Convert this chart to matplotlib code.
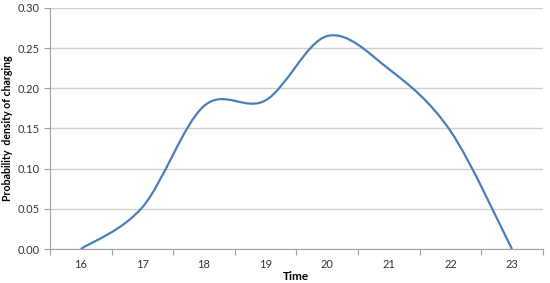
import numpy as np
import matplotlib
matplotlib.use('Agg')
import matplotlib.pyplot as plt
from matplotlib.path import Path
from matplotlib.patches import PathPatch

# Data
hours = [16, 17, 18, 19, 20, 21, 22, 23]
density = [0.0, 0.052, 0.178, 0.185, 0.265, 0.224, 0.147, 0.0]

plt.rcParams['font.family'] = ['Lato', 'DejaVu Sans']

fig = plt.figure(figsize=(5.5, 2.83), dpi=100)
ax = fig.add_axes([0.0909, 0.12, 0.896, 0.852])

# Excel-style smoothed line (Catmull-Rom as cubic Bezier segments)
x = np.array(hours, dtype=float)
y = np.array(density, dtype=float)
verts = [(x[0], y[0])]
codes = [Path.MOVETO]
n = len(x)
for i in range(n - 1):
    p0 = (x[max(i - 1, 0)], y[max(i - 1, 0)])
    p1 = (x[i], y[i])
    p2 = (x[i + 1], y[i + 1])
    p3 = (x[min(i + 2, n - 1)], y[min(i + 2, n - 1)])
    c1 = (p1[0] + (p2[0] - p0[0]) / 6, p1[1] + (p2[1] - p0[1]) / 6)
    c2 = (p2[0] - (p3[0] - p1[0]) / 6, p2[1] - (p3[1] - p1[1]) / 6)
    verts += [c1, c2, p2]
    codes += [Path.CURVE4] * 3
ax.add_patch(PathPatch(Path(verts, codes), fill=False, edgecolor='#4a7ebb',
                       lw=1.6, zorder=3))

ax.set_xlim(15.5, 23.5)
ax.set_ylim(0, 0.30)
ax.set_yticks(np.arange(0, 0.31, 0.05))
ax.set_yticklabels(['%.2f' % v for v in np.arange(0, 0.31, 0.05)])
ax.yaxis.grid(True, color='#d0d0d0', lw=1)
ax.set_axisbelow(True)

# category axis: ticks between categories, labels at centres
ax.set_xticks(np.arange(15.5, 23.6, 1))
ax.set_xticklabels([])
ax.set_xticks(hours, minor=True)
ax.set_xticklabels([str(h) for h in hours], minor=True)
ax.tick_params(axis='x', which='major', length=4, color='#a0a0a0')
ax.tick_params(axis='x', which='minor', length=0, pad=7, labelsize=8, labelcolor='#333333')
ax.tick_params(axis='y', length=4, color='#a0a0a0', labelsize=8, labelcolor='#333333')

for s in ['top', 'right']:
    ax.spines[s].set_visible(False)
ax.spines['left'].set_color('#a0a0a0')
ax.spines['bottom'].set_color('#a0a0a0')

ax.set_xlabel('Time', fontsize=8.5, fontweight='bold', labelpad=1)
ax.set_ylabel('Probability  density of charging', fontsize=7.6, fontweight='bold', labelpad=3)

fig.savefig('out.png', dpi=100)
